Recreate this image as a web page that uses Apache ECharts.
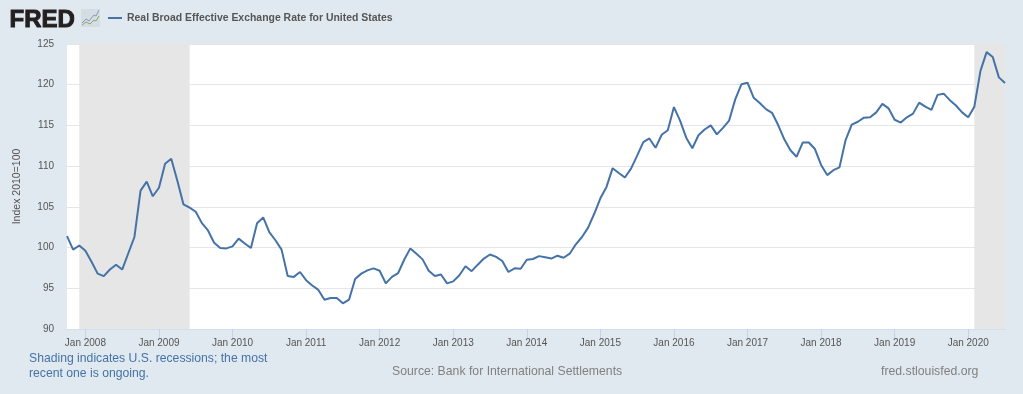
<!DOCTYPE html>
<html>
<head>
<meta charset="utf-8">
<style>html,body{margin:0;padding:0;background:#E1E9F0}#c{width:1023px;height:394px}</style>
<script src="https://cdn.jsdelivr.net/npm/echarts@6/dist/echarts.min.js"></script>
</head>
<body>
<div id="c"></div>
<script>
var seriesName = 'Real Broad Effective Exchange Rate for United States';
var startYear = 2007, startMonth = 10;
var values = [
101.4,99.75,100.25,
99.6,98.25,96.8,96.5,97.3,97.9,97.3,99.3,101.3,107,108.1,106.3,
107.35,110.3,110.9,108.2,105.3,104.9,104.4,103,102.1,100.6,99.95,99.9,
100.15,101.1,100.5,99.95,103,103.7,101.9,100.9,99.75,96.5,96.4,97,
96,95.35,94.8,93.6,93.8,93.8,93.15,93.6,96.15,96.8,97.2,97.45,
97.15,95.6,96.4,96.85,98.5,99.9,99.25,98.55,97.15,96.5,96.7,95.6,
95.85,96.6,97.7,97.1,97.9,98.65,99.15,98.85,98.35,97,97.45,97.4,
98.5,98.6,98.95,98.8,98.65,99,98.75,99.25,100.4,101.3,102.45,104.15,
106.05,107.45,109.75,109.15,108.6,109.7,111.3,112.95,113.4,112.25,113.85,114.4,
117.25,115.6,113.5,112.2,113.8,114.5,115,113.9,114.7,115.6,118.2,120.05,
120.25,118.4,117.75,117,116.55,115.05,113.3,111.95,111.15,112.9,112.9,112.1,
110.15,108.9,109.5,109.85,113.2,115.1,115.45,115.95,116,116.6,117.65,117.1,
115.7,115.35,116,116.45,117.8,117.3,116.9,118.75,118.9,118.1,117.45,116.6,
116,117.3,121.7,124,123.4,120.9,120.2
];
var recessions = [['2007-12','2009-06'],['2020-02','2020-07']];
var monthNames = ['Jan'];

var categories = values.map(function(_, i){
  var m = startMonth - 1 + i;
  var y = startYear + Math.floor(m / 12);
  var mm = (m % 12) + 1;
  return y + '-' + (mm < 10 ? '0' : '') + mm;
});
function isJan(v){ return v.slice(5) === '01'; }

var chart = echarts.init(document.getElementById('c'), null, {renderer:'canvas'});
var font = '"Liberation Sans", Arial, sans-serif';
chart.setOption({
  animation:false,
  backgroundColor:'#E1E9F0',
  textStyle:{fontFamily:font},
  legend:{
    left:103, top:8, itemWidth:14, itemHeight:2, itemGap:4,
    icon:'rect',
    data:[seriesName],
    selectedMode:false,
    textStyle:{color:'#555555', fontSize:10.45, fontWeight:'bold', fontFamily:font, padding:[0,0,0,0]}
  },
  grid:{left:67, right:18, top:44, bottom:65, show:true, backgroundColor:'#FFFFFF', borderWidth:0},
  xAxis:{
    type:'category', data:categories, boundaryGap:false,
    axisLine:{show:true, lineStyle:{color:'#D3DFEE', width:1}},
    axisTick:{show:true, length:9, lineStyle:{color:'#C5D3E8'},
      alignWithLabel:true, interval:function(i,v){return isJan(v);}},
    axisLabel:{show:true, color:'#555555', fontSize:10, margin:9, fontFamily:font, hideOverlap:false,
      interval:function(i,v){return isJan(v);},
      formatter:function(v){return monthNames[0] + ' ' + v.slice(0,4);}},
    splitLine:{show:false}
  },
  yAxis:{
    type:'value', min:90, max:125, interval:5,
    name:'Index 2010=100', nameLocation:'middle', nameGap:44,
    nameTextStyle:{color:'#555555', fontSize:10.5, fontFamily:font},
    axisLine:{show:false}, axisTick:{show:false},
    axisLabel:{color:'#555555', fontSize:10, margin:13, fontFamily:font},
    splitLine:{show:true, lineStyle:{color:'#E6E6E6', width:1}}
  },
  series:[{
    name:seriesName, type:'line', data:values, showSymbol:false, symbol:'none',
    smooth:false, z:5,
    lineStyle:{color:'#4572A7', width:2},
    itemStyle:{color:'#4572A7'},
    markArea:{silent:true, itemStyle:{color:'#E6E6E6', opacity:1},
      data:recessions.map(function(r){return [{xAxis:r[0]},{xAxis:r[1]}];})}
  }],
  graphic:[
    {type:'text', left:9, top:8, style:{text:'FRED', fill:'#231F20', font:'bold 24px '+font, stroke:'#231F20', lineWidth:1}},
    {type:'rect', shape:{x:81,y:9,width:19,height:18}, style:{fill:'#D5DDE3'}},
    {type:'polyline', shape:{points:[[82,23],[86,19],[89,21],[94,15],[96,16],[99,10]]}, style:{fill:'none',stroke:'#7F9CBF',lineWidth:1}},
    {type:'polyline', shape:{points:[[82,25],[86,22],[90,24],[94,20],[96,21],[99,16]]}, style:{fill:'none',stroke:'#86A86C',lineWidth:1}},
    {type:'text', left:29, top:351, style:{text:'Shading indicates U.S. recessions; the most\nrecent one is ongoing.', fill:'#4572A7', font:'12.2px '+font, lineHeight:15}},
    {type:'text', left:392, top:366, style:{text:'Source: Bank for International Settlements', fill:'#808080', font:'12.25px '+font}},
    {type:'text', left:881, top:366, style:{text:'fred.stlouisfed.org', fill:'#808080', font:'12.25px '+font}}
  ]
});
</script>
</body>
</html>
